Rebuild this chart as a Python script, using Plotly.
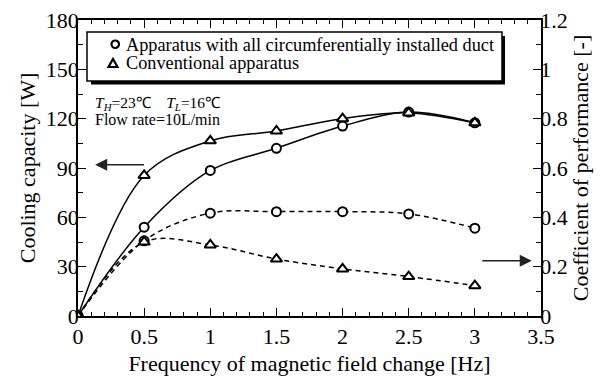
import plotly.graph_objects as go

# Frequency of magnetic field change [Hz]
freq = [0, 0.5, 1, 1.5, 2, 2.5, 3]

# Cooling capacity [W]
cap_duct = [0, 54, 88.5, 102, 115.5, 124, 117.5]
cap_conv = [0, 85.5, 106.5, 112.5, 120, 123.5, 117.5]

# Coefficient of performance [-]
cop_duct = [0, 0.305, 0.417, 0.423, 0.423, 0.414, 0.356]
cop_conv = [0, 0.30, 0.288, 0.231, 0.191, 0.160, 0.123]

legend_names = ["Apparatus with all circumferentially installed duct",
                "Conventional apparatus"]

FONT = "'Liberation Serif', 'Times New Roman', serif"
W, H = 611, 376
ML, MR, MT, MB = 78, 70, 20, 60
PW, PH = W - ML - MR, H - MT - MB


def pxx(px):
    return (px - ML) / PW


def pxy(py):
    return 1 - (py - MT) / PH


fig = go.Figure()

line_solid = dict(color="black", width=1.5, shape="spline", smoothing=1.0)
line_dash = dict(color="black", width=1.5, shape="spline", smoothing=1.0, dash="5px,4px")
circ = dict(symbol="circle", size=9, color="white", line=dict(color="black", width=2))
tri = dict(symbol="triangle-up", size=10, color="white", line=dict(color="black", width=2))

fig.add_trace(go.Scatter(x=freq, y=cap_duct, mode="lines+markers", line=line_solid,
                         marker=circ, showlegend=False))
fig.add_trace(go.Scatter(x=freq, y=cap_conv, mode="lines+markers", line=line_solid,
                         marker=tri, showlegend=False))
fig.add_trace(go.Scatter(x=freq, y=cop_duct, mode="lines+markers", line=line_dash,
                         marker=circ, showlegend=False, yaxis="y2"))
fig.add_trace(go.Scatter(x=freq, y=cop_conv, mode="lines+markers", line=line_dash,
                         marker=tri, showlegend=False, yaxis="y2"))

# legend box with drop shadow
fig.add_shape(type="rect", xref="paper", yref="paper",
              x0=pxx(91), x1=pxx(505), y0=pxy(84.5), y1=pxy(36),
              fillcolor="black", line=dict(width=0), layer="above")
fig.add_shape(type="rect", xref="paper", yref="paper",
              x0=pxx(87), x1=pxx(502), y0=pxy(81), y1=pxy(32),
              fillcolor="white", line=dict(color="black", width=1.5), layer="above")
# legend symbols
fig.add_shape(type="circle", xref="paper", yref="paper",
              x0=pxx(111.5), x1=pxx(119), y0=pxy(48), y1=pxy(40.5),
              fillcolor="white", line=dict(color="black", width=2.2), layer="above")
fig.add_shape(type="path", xref="paper", yref="paper",
              path=(f"M {pxx(108.5)} {pxy(67)} L {pxx(117.5)} {pxy(67)} "
                    f"L {pxx(113)} {pxy(59)} Z"),
              fillcolor="white", line=dict(color="black", width=2.2), layer="above")
for name, cy in zip(legend_names, [44.5, 63.5]):
    fig.add_annotation(x=pxx(125), y=pxy(cy), xref="paper", yref="paper",
                       xanchor="left", yanchor="middle", text=name, showarrow=False,
                       borderpad=0, font=dict(family=FONT, size=18.3, color="black"))

axis_common = dict(
    showline=True, linecolor="black", linewidth=1.5,
    ticks="inside", tickcolor="black", tickwidth=1.2, ticklen=8,
    tickfont=dict(family=FONT, size=22, color="black"),
    showgrid=False, zeroline=False, automargin=False,
)

fig.update_layout(
    width=W, height=H,
    margin=dict(l=ML, r=MR, t=MT, b=MB),
    paper_bgcolor="white", plot_bgcolor="white",
    font=dict(family=FONT, color="black"),
    showlegend=False,
    xaxis=dict(
        **axis_common, range=[0, 3.5], dtick=0.5, mirror="ticks",
        minor=dict(dtick=0.1, ticks="inside", ticklen=4, tickcolor="black", tickwidth=1.2),
        title=dict(text="Frequency of magnetic field change [Hz]",
                   font=dict(family=FONT, size=22), standoff=12),
    ),
    yaxis=dict(
        **axis_common, range=[0, 180], dtick=30, ticklabelstandoff=-7,
        minor=dict(dtick=15, ticks="inside", ticklen=5, tickcolor="black", tickwidth=1.2),
        title=dict(text="Cooling capacity [W]", font=dict(family=FONT, size=22), standoff=4),
    ),
    yaxis2=dict(
        **axis_common, range=[0, 1.2], dtick=0.2, overlaying="y", side="right",
        ticklabelstandoff=-7,
        minor=dict(dtick=0.1, ticks="inside", ticklen=5, tickcolor="black", tickwidth=1.2),
        title=dict(text="Coefficient of performance [-]", font=dict(family=FONT, size=22),
                   standoff=4),
    ),
)

fig.add_annotation(x=pxx(94), y=pxy(114), xref="paper", yref="paper",
                   xanchor="left", yanchor="bottom",
                   text="<i>T<sub>H</sub></i>=23℃    <i>T<sub>L</sub></i>=16℃",
                   showarrow=False, borderpad=0,
                   font=dict(family=FONT, size=15.5, color="black"))
fig.add_annotation(x=pxx(94), y=pxy(110), xref="paper", yref="paper",
                   xanchor="left", yanchor="top",
                   text="Flow rate=10L/min",
                   showarrow=False, borderpad=0,
                   font=dict(family=FONT, size=16, color="black"))

# arrows pointing to the relevant axis
fig.add_annotation(x=0.13, y=92, ax=0.51, ay=92, xref="x", yref="y", axref="x", ayref="y",
                   showarrow=True, arrowhead=2, arrowsize=1.6, arrowwidth=1.5,
                   arrowcolor="#222", text="")
fig.add_annotation(x=3.43, y=0.224, ax=3.045, ay=0.224, xref="x", yref="y2",
                   axref="x", ayref="y2",
                   showarrow=True, arrowhead=2, arrowsize=1.6, arrowwidth=1.5,
                   arrowcolor="#222", text="")

fig.write_html("out.html")
